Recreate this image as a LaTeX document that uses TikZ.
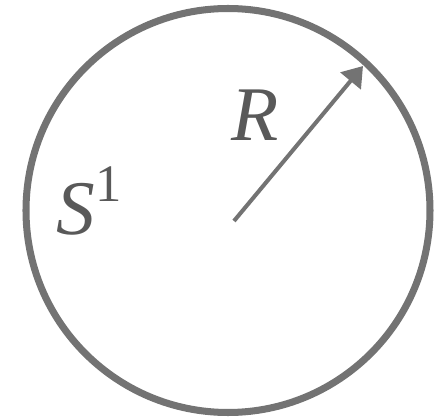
\documentclass[tikz,border=0pt]{standalone}
\usepackage{fontspec}
\setmainfont{Liberation Serif}
\usetikzlibrary{arrows.meta,positioning,calc}

\begin{document}
\begin{tikzpicture}[
    x=0.02cm, y=-0.02cm,
    ring/.style={draw=black!55, line width=4pt},
    radius arrow/.style={draw=black!55, line width=2.3pt, -{Triangle[length=0.39cm,width=0.52cm]}},
    lbl/.style={text=black!65, inner sep=0pt, font=\fontsize{44}{48}\selectfont}
]
    \useasboundingbox (0,0) rectangle (441,419);

    % Circle
    \coordinate (c) at (228,210.5);
    \node[ring, circle, minimum size=404*0.02cm, inner sep=0pt] (s) at (c) {};

    % Radius
    \coordinate (start) at (234,221);
    \coordinate (tip) at (363,66);
    \draw[radius arrow] (start) -- (tip);

    % Labels
    \node[lbl] (r) at (255,115) {\textit{R}};
    \node[lbl] (s1) at (89,201) {\textit{S}\raisebox{0.42em}{\fontsize{30}{32}\selectfont 1}};
\end{tikzpicture}
\end{document}
